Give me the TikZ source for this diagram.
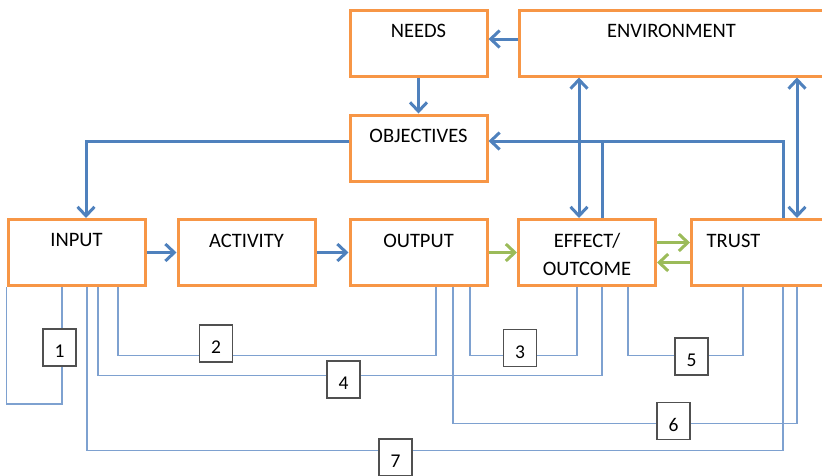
\documentclass[tikz,border=0pt]{standalone}
\usepackage{fontspec}
\setmainfont{Carlito}
\usepackage{xcolor}
\definecolor{boxorange}{RGB}{247,150,70}
\definecolor{flowblue}{RGB}{79,129,189}
\definecolor{linkblue}{RGB}{126,161,208}
\definecolor{flowgreen}{RGB}{155,187,89}
\definecolor{taggray}{RGB}{80,80,80}
\usepackage{tikz}
\usetikzlibrary{arrows.meta}
\newcommand{\widthstage}{137pt}
\newcommand{\heightstage}{66pt}
\newcommand{\barb}{Straight Barb[length=9pt, width=17pt]}
\tikzset{
    stage/.style={draw=boxorange, line width=3pt, rectangle, minimum width=\widthstage, minimum height=\heightstage, inner sep=0pt},
    stagetext/.style={anchor=north, yshift=-15.5pt, align=center, inner sep=0pt, font=\fontsize{20.5}{28}\selectfont},
    named/.style={label={[stagetext]north:#1}},
    flowplain/.style={draw=flowblue, line width=3pt},
    flow/.style={flowplain, -{\barb}},
    both/.style={flowplain, {\barb}-{\barb}},
    result/.style={flow, draw=flowgreen},
    link/.style={draw=linkblue, line width=1.2pt},
    tag/.style={draw=taggray, fill=white, line width=1.2pt, minimum width=33pt, minimum height=37pt, inner sep=0pt,
        text height=20pt, text depth=0pt, font=\fontsize{19.5}{22}\selectfont}
}
\begin{document}
\begin{tikzpicture}[x=1pt, y=-1pt]
    \useasboundingbox (0,0) rectangle (822,475);
    \clip (0,0) rectangle (822,475);

    % upper boxes
    \path
        (418.5,43) node[stage, named=NEEDS] (needs) {}
        ++(253,0) node[stage, named=ENVIRONMENT, minimum width=304pt] (env) {};
    \node[stage, named=OBJECTIVES] (obj) at (418.5,148) {};

    % main row
    \path
        (76.5,252.5) node[stage, named=INPUT] (input) {}
        ++(170,0) node[stage, named=ACTIVITY] (activity) {}
        ++(172,0) node[stage, named=OUTPUT] (output) {}
        ++(168.5,0) node[stage, named={EFFECT/\\OUTCOME}] (effect) {}
        ++(170.5,0) node[stage, minimum width=132pt, label={[stagetext, xshift=-24pt]north:TRUST}] (trust) {};

    \coordinate (fbin) at ([yshift=7pt]obj.east);
    \coordinate (fbeff) at ([xshift=15pt]effect.north);
    \coordinate (fbtrust) at ([xshift=25.5pt]trust.north);
    \coordinate (effenv) at ([xshift=-8pt]effect.north);
    \coordinate (trustenv) at ([xshift=39.5pt]trust.north);

    \draw[flow] ([yshift=4pt]env.west) -- ([yshift=4pt]needs.east);
    \draw[flow] (needs) -- (obj);
    \draw[flow] ([yshift=7pt]obj.west) -| ([xshift=9.5pt]input.north);
    \draw[both] (effenv) -- (effenv |- env.south);
    \draw[both] (trustenv) -- (trustenv |- env.south);
    \draw[flow] (fbtrust) |- (fbin);
    \draw[flowplain] (fbeff) -- (fbeff |- fbin);

    \draw[flow] (input) -- (activity);
    \draw[flow] (activity) -- (output);
    \draw[result] (output) -- (effect);
    \draw[result] ([yshift=10pt]effect.east) -- ([yshift=10pt]trust.west);
    \draw[result] ([yshift=-10pt]trust.west) -- ([yshift=-10pt]effect.east);

    % links below the row
    \draw[link] (input.south west) -- ++(0,117) -| ([xshift=-14.5pt]input.south);
    \draw[link] ([xshift=41.5pt]input.south) -- ++(0,68.5) -| ([xshift=17.5pt]output.south);
    \draw[link] ([xshift=51.5pt]output.south) -- ++(0,68.5) -| ([xshift=-10pt]effect.south);
    \draw[link] ([xshift=21.5pt]input.south) -- ++(0,88.5) -| ([xshift=15pt]effect.south);
    \draw[link] ([xshift=41pt]effect.south) -- ++(0,68.5) -| ([xshift=-14.5pt]trust.south);
    \draw[link] ([xshift=34.5pt]output.south) -- ++(0,136.5) -| ([xshift=39.5pt]trust.south);
    \draw[link] ([xshift=10.5pt]input.south) -- ++(0,163.5) -| ([xshift=25.5pt]trust.south);

    \node[tag] (t1) at (59.5,347.5) {1};
    \node[tag] (t2) at (216,343.5) {2};
    \node[tag] (t3) at (520,348) {3};
    \node[tag] (t4) at (343.5,379.5) {4};
    \node[tag] (t5) at (691.5,356.5) {5};
    \node[tag] (t6) at (673.5,421) {6};
    \node[tag] (t7) at (395.5,457.5) {7};
\end{tikzpicture}
\end{document}
